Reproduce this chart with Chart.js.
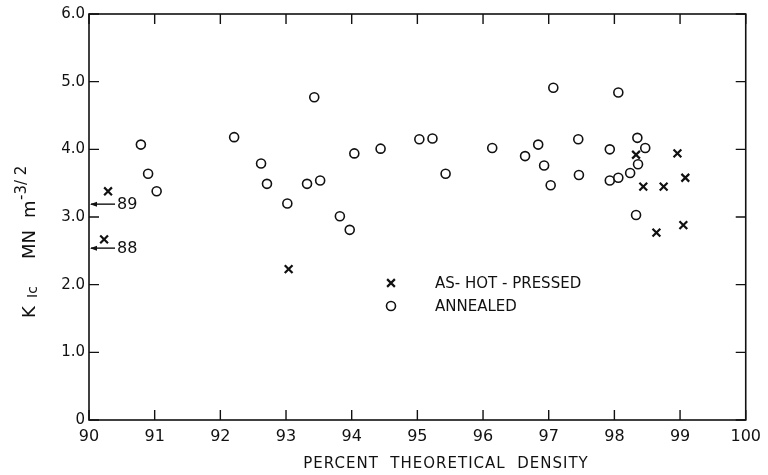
<!DOCTYPE html>
<html>
<head>
<meta charset="utf-8">
<script src="https://cdn.jsdelivr.net/npm/chart.js@4.4.1/dist/chart.umd.min.js"></script>
<style>
  html, body { margin: 0; padding: 0; background: #fff; }
  #wrap { width: 768px; height: 475px; }
</style>
</head>
<body>
<div id="wrap"><canvas id="kicChart" width="768" height="475"></canvas></div>
<script>
// annealed samples (circles)
const annealedX = [90.79, 90.90, 91.03, 92.21, 92.62, 92.71, 93.02, 93.32, 93.43, 93.52, 93.82, 93.97, 94.04, 94.44, 95.03, 95.23, 95.43, 96.14, 96.64, 96.84, 96.93, 97.03, 97.07, 97.45, 97.46, 97.93, 97.93, 98.06, 98.06, 98.24, 98.33, 98.35, 98.36, 98.47];
const annealedY = [4.07, 3.64, 3.38, 4.18, 3.79, 3.49, 3.20, 3.49, 4.77, 3.54, 3.01, 2.81, 3.94, 4.01, 4.15, 4.16, 3.64, 4.02, 3.90, 4.07, 3.76, 3.47, 4.91, 4.15, 3.62, 4.00, 3.54, 4.84, 3.58, 3.65, 3.03, 4.17, 3.78, 4.02];

// as-hot-pressed samples (x marks)
const hotPressedX = [90.29, 90.23, 93.04, 98.33, 98.44, 98.64, 98.75, 98.96, 99.05, 99.08];
const hotPressedY = [3.38, 2.67, 2.23, 3.92, 3.45, 2.77, 3.45, 3.94, 2.88, 3.58];

// off-scale values marked with arrows on the y axis
const arrowY = [3.19, 2.54];
const arrowLabels = ["89", "88"];

const seriesNames = ["AS- HOT - PRESSED", "ANNEALED"];
const xTicks = [90, 91, 92, 93, 94, 95, 96, 97, 98, 99, 100];
const yTicks = [0, 1, 2, 3, 4, 5, 6];
const yTickLabels = ["0", "1.0", "2.0", "3.0", "4.0", "5.0", "6.0"];
const xTitle = "PERCENT  THEORETICAL  DENSITY";

const INK = "#111";

const toPoints = (xs, ys) => xs.map((x, i) => ({ x: x, y: ys[i] }));

// frame, inward ticks, arrows, legend and axis titles
const decorations = {
  id: "decorations",
  afterDraw(chart) {
    const ctx = chart.ctx;
    const a = chart.chartArea;
    const xs = chart.scales.x;
    const ys = chart.scales.y;
    ctx.save();
    ctx.strokeStyle = INK;
    ctx.fillStyle = INK;
    ctx.lineWidth = 1.6;
    ctx.strokeRect(a.left, a.top, a.right - a.left, a.bottom - a.top);

    ctx.lineWidth = 1.4;
    ctx.beginPath();
    xTicks.forEach(v => {
      const px = xs.getPixelForValue(v);
      ctx.moveTo(px, a.bottom); ctx.lineTo(px, a.bottom - 10);
      ctx.moveTo(px, a.top); ctx.lineTo(px, a.top + 10);
    });
    yTicks.forEach(v => {
      const py = ys.getPixelForValue(v);
      ctx.moveTo(a.left, py); ctx.lineTo(a.left + 10, py);
      ctx.moveTo(a.right, py); ctx.lineTo(a.right - 10, py);
    });
    ctx.stroke();

    // arrows to the axis
    ctx.font = "16px 'DejaVu Sans', sans-serif";
    ctx.textBaseline = "middle";
    ctx.textAlign = "left";
    arrowY.forEach((v, i) => {
      const py = ys.getPixelForValue(v);
      ctx.beginPath();
      ctx.moveTo(a.left + 2, py); ctx.lineTo(a.left + 26, py);
      ctx.stroke();
      ctx.beginPath();
      ctx.moveTo(a.left + 1, py);
      ctx.lineTo(a.left + 8, py - 2.5);
      ctx.lineTo(a.left + 8, py + 2.5);
      ctx.closePath();
      ctx.fill();
      ctx.fillText(arrowLabels[i], a.left + 28, py + 1);
    });

    // legend inside the plot
    const lx = 391, ly = [283, 306];
    ctx.font = "15px 'DejaVu Sans', sans-serif";
    chart.data.datasets.forEach((ds, i) => {
      ctx.strokeStyle = ds.borderColor;
      ctx.fillStyle = ds.backgroundColor;
      ctx.lineWidth = ds.borderWidth;
      Chart.helpers.drawPoint(ctx, {
        pointStyle: ds.pointStyle, radius: ds.pointRadius, borderWidth: ds.borderWidth
      }, lx, ly[i]);
      ctx.fillStyle = INK;
      ctx.fillText(ds.label, 435, ly[i] + 1);
    });

    // x title
    ctx.fillStyle = INK;
    ctx.font = "15px 'DejaVu Sans', sans-serif";
    ctx.letterSpacing = "1px";
    ctx.textAlign = "center";
    ctx.fillText(xTitle, 446, 464);
    ctx.letterSpacing = "0px";

    // y title: K_Ic  MN m^-3/2
    ctx.translate(35, 318);
    ctx.rotate(-Math.PI / 2);
    ctx.textAlign = "left";
    ctx.textBaseline = "alphabetic";
    ctx.font = "18px 'DejaVu Sans', sans-serif";
    ctx.fillText("K", 0, 0);
    ctx.font = "14px 'DejaVu Sans', sans-serif";
    ctx.fillText("Ic", 20, 2);
    ctx.font = "18px 'DejaVu Sans', sans-serif";
    ctx.fillText("MN", 59, 0);
    ctx.fillText("m", 100, 0);
    ctx.font = "15px 'DejaVu Sans', sans-serif";
    ctx.fillText("-3/ 2", 118, -9);
    ctx.restore();
  }
};

new Chart(document.getElementById("kicChart"), {
  type: "scatter",
  data: {
    datasets: [
      {
        label: seriesNames[0],
        data: toPoints(hotPressedX, hotPressedY),
        pointStyle: "crossRot",
        pointRadius: 5.5,
        borderWidth: 2.2,
        borderColor: INK,
        backgroundColor: INK
      },
      {
        label: seriesNames[1],
        data: toPoints(annealedX, annealedY),
        pointStyle: "circle",
        pointRadius: 4.5,
        borderWidth: 1.6,
        borderColor: INK,
        backgroundColor: "#fff"
      }
    ]
  },
  plugins: [decorations],
  options: {
    responsive: false,
    animation: false,
    layout: { padding: { top: 14, right: 15, left: 0, bottom: 0 } },
    plugins: {
      legend: { display: false },
      tooltip: { enabled: false }
    },
    scales: {
      x: {
        type: "linear",
        min: 90,
        max: 100,
        afterFit: s => { s.height = 55; },
        afterBuildTicks: s => { s.ticks = xTicks.map(v => ({ value: v })); },
        grid: { display: false, drawTicks: false },
        border: { display: false },
        ticks: {
          padding: 7,
          color: INK,
          font: { size: 16, family: "'DejaVu Sans', sans-serif" },
          callback: v => String(v)
        }
      },
      y: {
        type: "linear",
        min: 0,
        max: 6,
        afterFit: s => { s.width = 89; },
        afterBuildTicks: s => { s.ticks = yTicks.map(v => ({ value: v })); },
        grid: { display: false, drawTicks: false },
        border: { display: false },
        ticks: {
          padding: 4,
          color: INK,
          font: { size: 15, family: "'DejaVu Sans', sans-serif" },
          callback: v => yTickLabels[yTicks.indexOf(v)]
        }
      }
    }
  }
});
</script>
</body>
</html>
